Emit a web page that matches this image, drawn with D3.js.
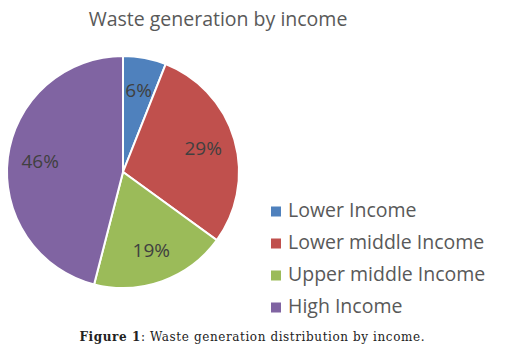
<!DOCTYPE html>
<html>
<head>
<meta charset="utf-8">
<script src="https://cdn.jsdelivr.net/npm/d3@7"></script>
<style>
  body { margin: 0; background: #fff; }
  svg { display: block; }
</style>
</head>
<body>
<div id="chart"></div>
<script>
// Data
var categories = ["Lower Income", "Lower middle Income", "Upper middle Income", "High Income"];
var shares = [6, 29, 19, 46];
var colors = ["#4F81BD", "#C0504D", "#9BBB59", "#8064A2"];

var width = 505, height = 358;
var cx = 123, cy = 172, radius = 116;

var svg = d3.select("#chart")
    .append("svg")
    .attr("width", width)
    .attr("height", height);

// Title
svg.append("text")
    .attr("x", 218)
    .attr("y", 26)
    .attr("text-anchor", "middle")
    .style("font-family", "'Open Sans', sans-serif")
    .style("font-size", "19.5px")
    .style("fill", "#595959")
    .text("Waste generation by income");

var data = categories.map(function(c, i) { return { name: c, value: shares[i], color: colors[i] }; });

var pie = d3.pie()
    .sort(null)
    .value(function(d) { return d.value; });

var arc = d3.arc().innerRadius(0).outerRadius(radius);
var labelArc = d3.arc().innerRadius(radius * 0.72).outerRadius(radius * 0.72);

var g = svg.append("g")
    .attr("transform", "translate(" + cx + "," + cy + ")");

g.selectAll("path")
    .data(pie(data))
    .enter()
    .append("path")
    .attr("d", arc)
    .attr("fill", function(d) { return d.data.color; })
    .attr("stroke", "#fff")
    .attr("stroke-width", 2);

g.selectAll(".slice-label")
    .data(pie(data))
    .enter()
    .append("text")
    .attr("class", "slice-label")
    .attr("transform", function(d) { return "translate(" + labelArc.centroid(d) + ")"; })
    .attr("text-anchor", "middle")
    .attr("dy", "0.35em")
    .style("font-family", "'Open Sans', sans-serif")
    .style("font-size", "19px")
    .style("fill", "#404040")
    .text(function(d) { return d.data.value + "%"; });

// Legend
var legend = svg.append("g")
    .attr("transform", "translate(271,216.5)");

var item = legend.selectAll(".legend-item")
    .data(data)
    .enter()
    .append("g")
    .attr("class", "legend-item")
    .attr("transform", function(d, i) { return "translate(0," + (i * 32) + ")"; });

item.append("rect")
    .attr("x", 0)
    .attr("y", -10)
    .attr("width", 10)
    .attr("height", 10)
    .style("fill", function(d) { return d.color; });

item.append("text")
    .attr("x", 17)
    .attr("y", 0)
    .style("font-family", "'Open Sans', sans-serif")
    .style("font-size", "19.5px")
    .style("fill", "#595959")
    .text(function(d) { return d.name; });

// Caption
var cap = svg.append("text")
    .attr("x", 252)
    .attr("y", 341)
    .attr("text-anchor", "middle")
    .attr("textLength", 345)
    .attr("lengthAdjust", "spacing")
    .style("font-family", "'DejaVu Serif', serif")
    .style("font-size", "12px")
    .style("fill", "#222");
cap.append("tspan").style("font-weight", "bold").text("Figure 1");
cap.append("tspan").text(": Waste generation distribution by income.");
</script>
</body>
</html>
